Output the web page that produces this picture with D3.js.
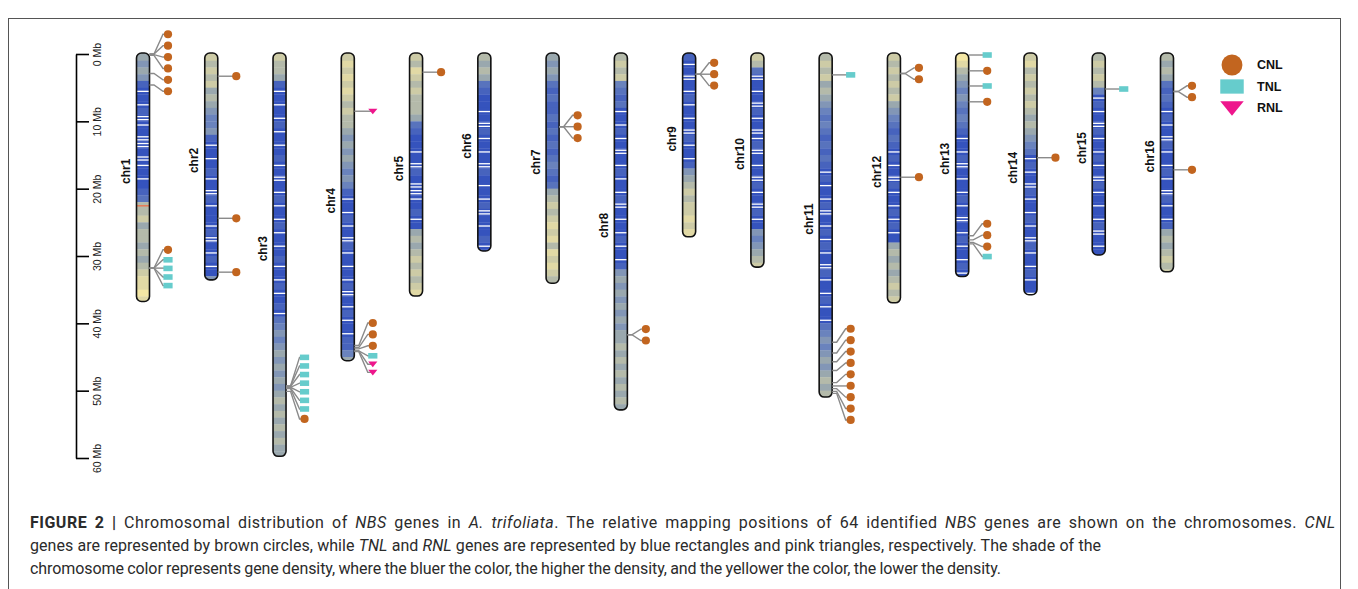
<!DOCTYPE html>
<html>
<head>
<meta charset="utf-8">
<script src="https://cdn.jsdelivr.net/npm/d3@7"></script>
<style>
  body { margin: 0; background: #fff; }
  svg { display: block; }
</style>
</head>
<body>
<svg id="fig" width="1358" height="589"></svg>
<script>
// chromosomes, lengths in Mb
const chromNames = ["chr1","chr2","chr3","chr4","chr5","chr6","chr7","chr8",
                    "chr9","chr10","chr11","chr12","chr13","chr14","chr15","chr16"];
const chromLengths = [36.6, 33.4, 59.6, 45.4, 35.8, 29.1, 33.9, 52.7,
                      27.0, 31.5, 50.8, 36.8, 32.9, 35.6, 29.7, 32.2];

// gene density per 1 Mb bin: 0 = low (yellow) .. 9 = high (blue),
// w / v = high with one / two white bands, r = low with a red band
const densityBins = [
  "4545" + "8w9w8vw9vv9vw9w98" + "7r" + "3243" + "34343" + "21101",
  "2323243" + "45665" + "8w9w98w9v8w99w8v9w8w9" + "5",
  "2334" + "8w9w9w8w9w98w9v9w8w9w8w9w9" + "8w9w8w98w7" + "6565454545" + "4343434344",
  "2121212323" + "3454545656" + "8w9w8w9v8w9w9w8v9w8w9w88" + "64",
  "2312323334" + "7899w9v89vvw98w9" + "4343232321",
  "3434" + "7899w9v8w9w9v89w9w8v9w98w9",
  "4545" + "7878878787876787" + "43232121312123",
  "3232" + "6787w9w8w9v9w8w9w8v9w9w8w9w8" + "5454545454" + "4343434343" + "4",
  "8w9v9w8w9w9v8w9w8" + "5432322121",
  "23" + "7v9w9v8w9vw8v9w9v8w9v8w9" + "565432",
  "3232434" + "5676787878w8w9w8v9w8w8w9v8w9w8w9w7" + "6565454343",
  "2323232" + "4567878w8w9v8w9w8w8w9" + "434343232",
  "0134" + "5656767" + "8w9w8v9w9w8w9v9w8w9w8w",
  "213232323434" + "567w8w9v8w9w8w9v8w9w8w9w",
  "32323" + "6w8w9v8w9w8w9v8w9w9w8v9w9",
  "3434" + "7878w8w9v8w9w8w9v8w9w8" + "4343232"
];

// NBS genes: chromosome, position (Mb), class
const geneChrom = [
  "chr1","chr1","chr1","chr1","chr1","chr1","chr1","chr1","chr1","chr1","chr1",
  "chr2","chr2","chr2",
  "chr3","chr3","chr3","chr3","chr3","chr3","chr3","chr3",
  "chr4","chr4","chr4","chr4","chr4","chr4","chr4",
  "chr5",
  "chr7","chr7","chr7",
  "chr8","chr8",
  "chr9","chr9","chr9",
  "chr11","chr11","chr11","chr11","chr11","chr11","chr11","chr11","chr11","chr11",
  "chr12","chr12","chr12",
  "chr13","chr13","chr13","chr13","chr13","chr13","chr13","chr13",
  "chr14",
  "chr15",
  "chr16","chr16","chr16"
];
const genePos = [
  0.0, 0.0, 0.1, 0.2, 2.9, 4.6, 31.8, 31.8, 31.8, 31.8, 31.8,
  3.3, 24.4, 32.4,
  49.3, 49.3, 49.4, 49.5, 49.5, 49.6, 49.7, 50.1,
  8.5, 43.3, 43.6, 43.8, 44.1, 44.1, 44.2,
  2.7,
  10.8, 10.8, 10.8,
  41.7, 41.7,
  3.0, 3.0, 3.0,
  3.1, 42.8, 44.4, 45.7, 47.0, 48.8, 49.3, 49.7, 50.1, 50.4,
  2.9, 2.9, 18.3,
  0.15, 2.5, 4.75, 7.1, 27.0, 27.6, 28.0, 28.2,
  15.4,
  5.2,
  5.57, 5.57, 17.2
];
const geneType = [
  "CNL","CNL","CNL","CNL","CNL","CNL","CNL","TNL","TNL","TNL","TNL",
  "CNL","CNL","CNL",
  "TNL","TNL","TNL","TNL","TNL","TNL","TNL","CNL",
  "RNL","CNL","CNL","CNL","TNL","RNL","RNL",
  "CNL",
  "CNL","CNL","CNL",
  "CNL","CNL",
  "CNL","CNL","CNL",
  "TNL","CNL","CNL","CNL","CNL","CNL","CNL","CNL","CNL","CNL",
  "CNL","CNL","CNL",
  "TNL","CNL","TNL","CNL","CNL","CNL","CNL","TNL",
  "CNL",
  "TNL",
  "CNL","CNL","CNL"
];

const axisTicks = [0, 10, 20, 30, 40, 50, 60];
const legendTypes = ["CNL", "TNL", "RNL"];

const typeColor = { CNL: "#c2651f", TNL: "#66cccc", RNL: "#ee168c" };
const typeHeight = { CNL: 8.2, TNL: 5.4, RNL: 5.0 };
const markerGap = 3.2;

const svg = d3.select("#fig");

// frame round the figure
svg.append("rect")
  .attr("x", 8.5).attr("y", 18.5)
  .attr("width", 1332).attr("height", 620)
  .attr("fill", "none").attr("stroke", "#555").attr("stroke-width", 1);

const y = d3.scaleLinear().domain([0, 60]).range([54, 458]);
const x = d3.scalePoint().domain(chromNames).range([143, 1167]);

const densityColor = d3.scaleLinear()
  .domain([0, 2, 4, 6, 9])
  .range(["#f4e7a4", "#cdcba6", "#9aa8ae", "#6a83bd", "#3553bd"]);

// scale bar
const axisG = svg.append("g").attr("transform", "translate(76,0)");
axisG.call(d3.axisRight(y).tickValues(axisTicks).tickSize(13).tickSizeOuter(0)
  .tickFormat(d => d + " Mb"));
axisG.select(".domain").attr("stroke", "#000").attr("stroke-width", 1.6);
axisG.selectAll(".tick line").attr("stroke", "#000").attr("stroke-width", 1.6);
axisG.selectAll(".tick text")
  .attr("x", 0).attr("dy", 0)
  .attr("transform", "translate(21,0) rotate(-90)")
  .attr("text-anchor", "middle")
  .attr("dominant-baseline", "central")
  .style("font-family", "Liberation Sans, Arial, sans-serif")
  .style("font-size", "10.5px")
  .attr("fill", "#222");

// chromosomes
const defs = svg.append("defs");
const chromW = 13;
const stripeAt = { w: [0.45], v: [0.2, 0.65], r: [0.45] };

chromNames.forEach((name, ci) => {
  const cx = x(name);
  const len = chromLengths[ci];
  const top = y(0) - 1, bot = y(len) + 1;
  const g = svg.append("g").attr("class", "chrom");

  defs.append("clipPath").attr("id", "clip-" + name)
    .append("rect")
    .attr("x", cx - chromW / 2).attr("y", top)
    .attr("width", chromW).attr("height", bot - top)
    .attr("rx", 5).attr("ry", 5);

  const bins = densityBins[ci].split("");
  const bg = g.append("g").attr("clip-path", "url(#clip-" + name + ")");
  bg.selectAll("rect.bin")
    .data(bins)
    .join("rect")
    .attr("class", "bin")
    .attr("x", cx - chromW / 2)
    .attr("y", (d, i) => i === 0 ? top : y(i))
    .attr("width", chromW)
    .attr("height", (d, i) => (i === bins.length - 1 ? bot : y(i + 1)) - (i === 0 ? top : y(i)) + 0.3)
    .attr("fill", d => (d === "w" || d === "v") ? densityColor(9) : d === "r" ? densityColor(3) : densityColor(+d));

  const stripes = [];
  bins.forEach((d, i) => (stripeAt[d] || []).forEach(f => stripes.push({ d, at: i + f })));
  bg.selectAll("rect.band")
    .data(stripes)
    .join("rect")
    .attr("class", "band")
    .attr("x", cx - chromW / 2)
    .attr("y", b => y(b.at))
    .attr("width", chromW)
    .attr("height", 1.3)
    .attr("fill", b => b.d === "r" ? "#f0704a" : "#ffffff");

  g.append("rect")
    .attr("x", cx - chromW / 2).attr("y", top)
    .attr("width", chromW).attr("height", bot - top)
    .attr("rx", 5).attr("ry", 5)
    .attr("fill", "none").attr("stroke", "#111").attr("stroke-width", 1.6);

  g.append("text")
    .attr("transform", `translate(${cx - 17},${(top + bot) / 2 - 6}) rotate(-90)`)
    .attr("text-anchor", "middle")
    .attr("dominant-baseline", "central")
    .style("font-family", "Liberation Sans, Arial, sans-serif")
    .style("font-weight", "bold")
    .style("font-size", "12px")
    .attr("fill", "#111")
    .text(name);
});

// marker layout: spread overlapping markers, each group centred on its genes
function layoutMarkers(items) {
  items.sort((a, b) => a.ideal - b.ideal);
  let groups = items.map(d => ({ items: [d] }));
  const place = grp => {
    const off = [0];
    for (let k = 1; k < grp.items.length; k++) {
      const a = grp.items[k - 1], b = grp.items[k];
      off.push(off[k - 1] + (typeHeight[a.type] + typeHeight[b.type]) / 2 + markerGap);
    }
    const start = d3.mean(grp.items, (d, k) => d.ideal - off[k]);
    grp.items.forEach((d, k) => d.ly = start + off[k]);
    const first = grp.items[0], last = grp.items[grp.items.length - 1];
    grp.top = first.ly - typeHeight[first.type] / 2;
    grp.bottom = last.ly + typeHeight[last.type] / 2;
  };
  groups.forEach(place);
  let merged = true;
  while (merged) {
    merged = false;
    for (let i = 0; i < groups.length - 1; i++) {
      if (groups[i].bottom + markerGap > groups[i + 1].top + 0.01) {
        const g = { items: groups[i].items.concat(groups[i + 1].items) };
        place(g);
        groups.splice(i, 2, g);
        merged = true;
        break;
      }
    }
  }
  return items;
}

const genes = geneChrom.map((c, i) => ({ chrom: c, pos: genePos[i], type: geneType[i] }));
const geneG = svg.append("g").attr("class", "genes");

chromNames.forEach(name => {
  const cx = x(name);
  const items = genes.filter(d => d.chrom === name).map(d => ({ ...d, ideal: y(d.pos) }));
  if (!items.length) return;
  layoutMarkers(items);
  const mx = cx + 25;

  geneG.selectAll(null)
    .data(items)
    .join("path")
    .attr("d", d => {
      const x0 = cx + chromW / 2;
      if (Math.abs(d.ly - d.ideal) < 0.6) return `M${x0},${d.ideal}H${mx}`;
      return `M${x0},${d.ideal}H${cx + 11}L${cx + 20},${d.ly}H${mx}`;
    })
    .attr("fill", "none")
    .attr("stroke", "#8a8a8a")
    .attr("stroke-width", 1.4);

  items.forEach(d => drawMarker(geneG, d.type, mx, d.ly, 1));
});

function drawMarker(parent, type, cx, cy, k) {
  if (type === "CNL") {
    parent.append("circle").attr("cx", cx).attr("cy", cy).attr("r", 4.1 * k)
      .attr("fill", typeColor.CNL);
  } else if (type === "TNL") {
    parent.append("rect").attr("x", cx - 4.6 * k).attr("y", cy - 2.8 * k)
      .attr("width", 9.2 * k).attr("height", 5.6 * k).attr("fill", typeColor.TNL);
  } else {
    parent.append("path")
      .attr("d", `M${cx - 4.6 * k},${cy - 2.6 * k}H${cx + 4.6 * k}L${cx},${cy + 3 * k}Z`)
      .attr("fill", typeColor.RNL);
  }
}

// legend
const legY = d3.scalePoint().domain(legendTypes).range([65, 108]);
const legG = svg.append("g").attr("class", "legend");
legendTypes.forEach(t => {
  drawMarker(legG, t, 1232, legY(t), 2.55);
  legG.append("text")
    .attr("x", 1257).attr("y", legY(t))
    .attr("dominant-baseline", "central")
    .style("font-family", "Liberation Sans, Arial, sans-serif")
    .style("font-weight", "bold")
    .style("font-size", "12.5px")
    .attr("fill", "#111")
    .text(t);
});

// caption
const captionLines = [
  [["b", "FIGURE 2 | "], ["", "Chromosomal distribution of "], ["i", "NBS"], ["", " genes in "],
   ["i", "A. trifoliata"], ["", ". The relative mapping positions of 64 identified "], ["i", "NBS"],
   ["", " genes are shown on the chromosomes. "], ["i", "CNL"]],
  [["", "genes are represented by brown circles, while "], ["i", "TNL"], ["", " and "], ["i", "RNL"],
   ["", " genes are represented by blue rectangles and pink triangles, respectively. The shade of the"]],
  [["", "chromosome color represents gene density, where the bluer the color, the higher the density, and the yellower the color, the lower the density."]]
];
const capBase = [528, 551, 574];
const capWidth = [1305, 1071, 971];
captionLines.forEach((parts, li) => {
  const t = svg.append("text")
    .attr("x", 30).attr("y", capBase[li])
    .style("font-family", "Roboto, 'Liberation Sans', sans-serif")
    .style("font-size", "16px")
    .attr("fill", "#2b2b2b");
  parts.forEach(([s, str]) => {
    const ts = t.append("tspan").text(str);
    if (s === "b") ts.style("font-weight", "bold");
    if (s === "i") ts.style("font-style", "italic");
  });
  // spread the line so it ends where it does in the print:
  // half of the slack goes between letters, half between words
  const full = parts.map(p => p[1]).join("");
  const natural = t.node().getComputedTextLength();
  const slack = capWidth[li] - natural;
  const spaces = full.split(" ").length - 1;
  t.style("letter-spacing", (slack * 0.5 / full.length) + "px")
   .style("word-spacing", (slack * 0.5 / spaces) + "px");
});
</script>
</body>
</html>
